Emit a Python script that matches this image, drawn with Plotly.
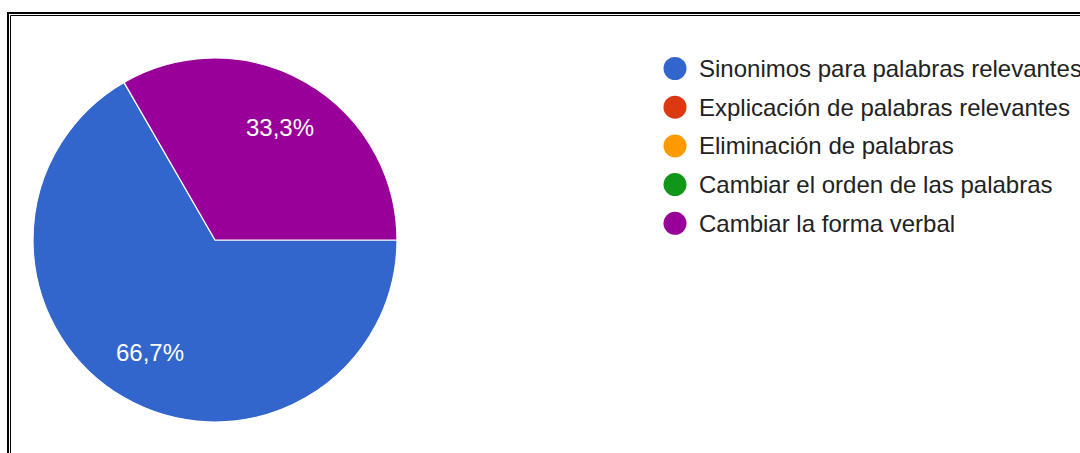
import math
import plotly.graph_objects as go

# ---- data ----
categories = [
    "Sinonimos para palabras relevantes",
    "Explicación de palabras relevantes",
    "Eliminación de palabras",
    "Cambiar el orden de las palabras",
    "Cambiar la forma verbal",
]
values = [2, 0, 0, 0, 1]
colors = ["#3366CC", "#DC3912", "#FF9900", "#109618", "#990099"]

W, H = 1080, 453
FONT = "Liberation Sans, Arial, sans-serif"
START_ANGLE = 90  # degrees clockwise from 12 o'clock


def px(x):
    return x / W


def py(y):
    return 1 - y / H


# slices with a value (zero slices only appear in the legend)
pie_labels = [c for c, v in zip(categories, values) if v > 0]
pie_values = [v for v in values if v > 0]
pie_colors = [col for col, v in zip(colors, values) if v > 0]

cx, cy, r = 215, 240, 182

fig = go.Figure()
fig.add_trace(
    go.Pie(
        labels=pie_labels,
        values=pie_values,
        marker=dict(colors=pie_colors, line=dict(color="white", width=1.2)),
        sort=False,
        direction="clockwise",
        rotation=START_ANGLE,
        textinfo="none",
        showlegend=False,
        hoverinfo="label+percent",
        domain=dict(x=[px(cx - r), px(cx + r)], y=[py(cy + r), py(cy - r)]),
    )
)

shapes = [
    # double frame (outer thick, inner thin), open to the right/bottom
    dict(type="rect", xref="paper", yref="paper", x0=px(8), y0=py(13), x1=1.2, y1=-0.2,
         line=dict(color="black", width=2), fillcolor="rgba(0,0,0,0)", layer="above"),
    dict(type="rect", xref="paper", yref="paper", x0=px(10.5), y0=py(15.5), x1=1.2, y1=-0.2,
         line=dict(color="black", width=1), fillcolor="rgba(0,0,0,0)", layer="above"),
]
annotations = []

# percentage labels placed at the middle angle of each slice
total = sum(pie_values)
acc = 0.0
for v in pie_values:
    mid = START_ANGLE + (acc + v / 2) / total * 360
    acc += v
    th = math.radians(mid)
    lx = cx + 0.715 * r * math.sin(th)
    ly = cy - 0.715 * r * math.cos(th)
    pct = f"{v / total * 100:.1f}".replace(".", ",") + "%"
    annotations.append(
        dict(xref="paper", yref="paper", x=px(lx), y=py(ly), xanchor="center", yanchor="middle",
             text=pct, showarrow=False, font=dict(family=FONT, size=24, color="white"))
    )

leg_x, leg_y0, leg_dy = 675, 68.5, 38.7
for i, (lab, col) in enumerate(zip(categories, colors)):
    yy = leg_y0 + i * leg_dy
    shapes.append(
        dict(type="circle", xref="paper", yref="paper",
             xsizemode="pixel", ysizemode="pixel",
             xanchor=px(leg_x), yanchor=py(yy),
             x0=-11.5, x1=11.5, y0=-11.5, y1=11.5,
             fillcolor=col, line=dict(width=0))
    )
    annotations.append(
        dict(xref="paper", yref="paper", x=px(697), y=py(yy), xanchor="left", yanchor="middle",
             text=lab, showarrow=False, font=dict(family=FONT, size=24, color="#222222"))
    )

fig.update_layout(
    width=W,
    height=H,
    margin=dict(l=0, r=0, t=0, b=0),
    paper_bgcolor="white",
    plot_bgcolor="white",
    shapes=shapes,
    annotations=annotations,
)

fig.write_html("out.html", config={"displayModeBar": False},
               post_script="document.body.style.margin='0px';")
